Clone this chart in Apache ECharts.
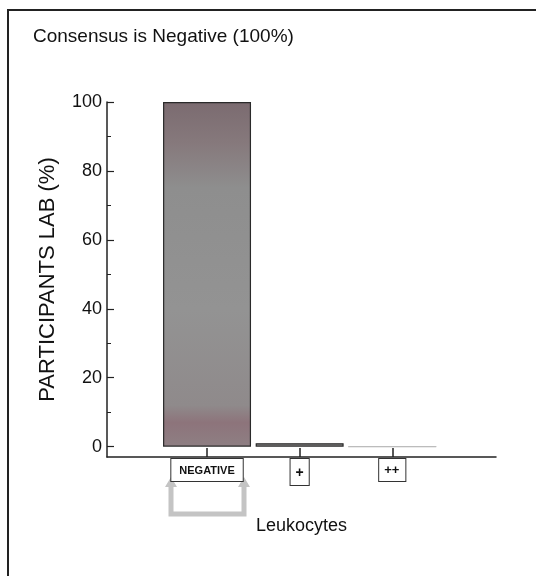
<!DOCTYPE html>
<html>
<head>
<meta charset="utf-8">
<script src="https://cdn.jsdelivr.net/npm/echarts@6/dist/echarts.min.js"></script>
<style>
  html, body { margin: 0; padding: 0; background: #fff; }
  #main { width: 536px; height: 576px; }
</style>
</head>
<body>
<div id="main"></div>
<script>
// categories on the x axis (placed at positions 1, 2, 3)
const categories = ["NEGATIVE", "+", "++"];
const positions = [1, 2, 3];
// participants lab (%)
const values = [100, 1, 0];
// y axis ticks
const majorTicks = [0, 20, 40, 60, 80, 100];
const minorTicks = [10, 30, 50, 70, 90];

const labelStyles = ["neg", "p1", "p2"];

var myChart = echarts.init(document.getElementById("main"));

const barColor = new echarts.graphic.LinearGradient(0, 0, 0, 1, [
  { offset: 0, color: "#7b6b70" },
  { offset: 0.12, color: "#86797c" },
  { offset: 0.25, color: "#8e8e8e" },
  { offset: 0.6, color: "#939393" },
  { offset: 0.88, color: "#8f8a8b" },
  { offset: 0.93, color: "#8d747b" },
  { offset: 1, color: "#8e7f83" }
]);

myChart.setOption({
  animation: false,
  title: {
    text: "Consensus is Negative (100%)",
    left: 28,
    top: 22,
    textStyle: {
      fontFamily: "Liberation Sans, Arial",
      fontWeight: "normal",
      fontSize: 19,
      color: "#111"
    }
  },
  grid: {
    left: 107,
    right: 40,
    top: 102,
    bottom: 119
  },
  xAxis: {
    type: "value",
    min: -0.08,
    max: 4.12,
    name: "Leukocytes",
    nameLocation: "middle",
    nameGap: 60,
    nameTextStyle: {
      fontFamily: "Liberation Sans, Arial",
      fontSize: 18,
      letterSpacing: -0.8,
      color: "#111"
    },
    splitLine: { show: false },
    axisLine: { show: true, onZero: false, lineStyle: { color: "#222", width: 1.5 } },
    axisTick: {
      show: true,
      inside: true,
      length: 9,
      customValues: positions,
      lineStyle: { color: "#222", width: 1.5 }
    },
    axisLabel: {
      customValues: positions,
      margin: 2,
      formatter: function (v) {
        const i = Math.round(v) - 1;
        return "{" + labelStyles[i] + "|" + categories[i] + "}";
      },
      rich: {
        neg: {
          fontFamily: "Liberation Sans, Arial",
          fontWeight: "bold",
          fontSize: 11,
          letterSpacing: -0.3,
          color: "#111",
          borderColor: "#333",
          borderWidth: 1,
          backgroundColor: "#fff",
          padding: [6, 8, 5, 8]
        },
        p1: {
          fontFamily: "Liberation Sans, Arial",
          fontWeight: "bold",
          fontSize: 14,
          color: "#111",
          borderColor: "#333",
          borderWidth: 1,
          backgroundColor: "#fff",
          padding: [7, 5, 5, 5]
        },
        p2: {
          fontFamily: "Liberation Sans, Arial",
          fontWeight: "bold",
          fontSize: 13,
          letterSpacing: -2,
          color: "#111",
          borderColor: "#333",
          borderWidth: 1,
          backgroundColor: "#fff",
          padding: [5, 6, 4, 5]
        }
      }
    }
  },
  yAxis: [
    {
      type: "value",
      min: -3,
      max: 100,
      name: "PARTICIPANTS LAB (%)",
      nameLocation: "middle",
      nameGap: 48,
      nameTextStyle: {
        fontFamily: "Liberation Sans, Arial",
        fontSize: 22,
        color: "#111"
      },
      splitLine: { show: false },
      axisLine: { show: true, onZero: false, lineStyle: { color: "#222", width: 1.5 } },
      axisTick: {
        show: true,
        inside: true,
        length: 7,
        customValues: majorTicks,
        lineStyle: { color: "#222", width: 1.2 }
      },
      axisLabel: {
        customValues: majorTicks,
        margin: 5,
        fontFamily: "Liberation Sans, Arial",
        fontSize: 18,
        letterSpacing: -1.6,
        color: "#111"
      }
    },
    {
      type: "value",
      min: -3,
      max: 100,
      position: "left",
      splitLine: { show: false },
      axisLine: { show: false, onZero: false },
      axisTick: {
        show: true,
        inside: true,
        length: 4,
        customValues: minorTicks,
        lineStyle: { color: "#222", width: 1 }
      },
      axisLabel: { show: false }
    }
  ],
  series: [
    {
      type: "bar",
      barWidth: 88,
      data: positions.map((p, i) => ({
        value: [p, values[i]],
        itemStyle: values[i] === 0 ? { borderColor: "#bbb", borderWidth: 1 } : {}
      })),
      itemStyle: {
        color: barColor,
        borderColor: "#2a2a2a",
        borderWidth: 1.2
      }
    }
  ],
  graphic: [
    {
      // outer frame
      type: "rect",
      shape: { x: 8, y: 10, width: 600, height: 600 },
      style: { fill: "none", stroke: "#222", lineWidth: 2 },
      silent: true
    },
    {
      // gray bracket arrows under the NEGATIVE label
      type: "polyline",
      shape: { points: [[171, 486], [171, 514], [244, 514], [244, 486]] },
      style: { fill: "none", stroke: "#c4c4c4", lineWidth: 5 },
      silent: true
    },
    {
      type: "polygon",
      shape: { points: [[165, 487], [171, 477], [177, 487]] },
      style: { fill: "#c4c4c4" },
      silent: true
    },
    {
      type: "polygon",
      shape: { points: [[238, 487], [244, 477], [250, 487]] },
      style: { fill: "#c4c4c4" },
      silent: true
    }
  ]
});
</script>
</body>
</html>
